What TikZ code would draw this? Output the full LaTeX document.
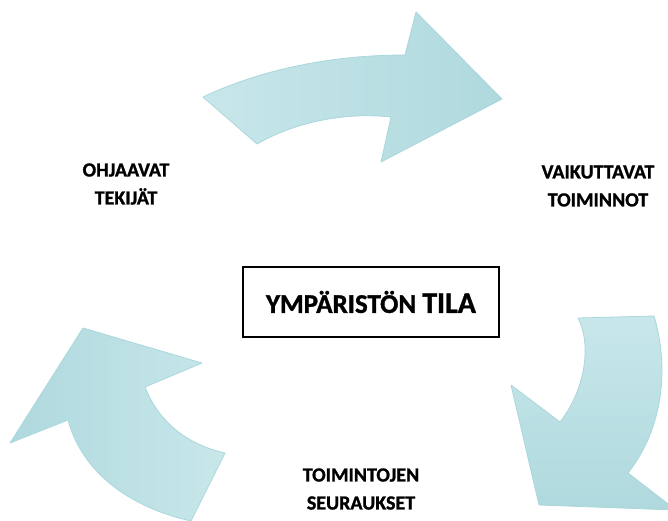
\documentclass[tikz,border=0pt]{standalone}
\usepackage{fontspec}
\setmainfont{Carlito}[BoldFont={Carlito Bold}, BoldFeatures={FakeBold=1.2}]
\definecolor{arrowlight}{RGB}{200,231,234}
\definecolor{arrowdark}{RGB}{175,217,222}
\definecolor{arrowedge}{RGB}{170,215,220}
\begin{document}
\begin{tikzpicture}[x=1pt,y=-1pt,
  flow/.style={draw=arrowedge, line width=0.8pt, line join=round},
  label/.style={font=\bfseries\fontsize{20}{28}\selectfont, align=center, text=black},
  statebox/.style={draw=black, line width=1.4pt, minimum width=256pt, minimum height=70pt, inner sep=0pt,
    font=\bfseries, text=black},
]
\useasboundingbox (0,0) rectangle (668,520);
\fill[white] (0,0) rectangle (668,520);

\begin{scope}
  \clip (0,0) rectangle (668,520);
  % curved arrow across the top, pointing right
  \shadedraw[flow, left color=arrowlight, right color=arrowdark]
    (203,97) .. controls (260,70) and (330,55) .. (405,55)
    -- (416,12) -- (502,99) -- (381,162) -- (391,117)
    .. controls (345,112) and (295,122) .. (257,144) -- cycle;
  % curved arrow on the right, pointing down and to the left
  \shadedraw[flow, top color=arrowlight, bottom color=arrowdark]
    (578,318) -- (654,316)
    .. controls (670,370) and (662,430) .. (628,473)
    -- (676,510) -- (539,505) -- (511,385) -- (560,422)
    .. controls (585,390) and (592,345) .. (578,318) -- cycle;
  % curved arrow on the lower left, pointing up
  \shadedraw[flow, left color=arrowdark, right color=arrowlight]
    (83,328) -- (202,363) -- (145,387)
    .. controls (160,425) and (190,445) .. (225,453)
    -- (191,521)
    .. controls (120,505) and (80,465) .. (68,420)
    -- (10,443) -- cycle;
\end{scope}

\node[statebox] (state) at (371,302)
  {\fontsize{27}{30}\selectfont YMPÄRISTÖN {\fontsize{30}{30}\selectfont TILA}};

\node[label] (drivers) at (126,184) {OHJAAVAT\\TEKIJÄT};
\node[label] (pressures) at (598,186) {VAIKUTTAVAT\\TOIMINNOT};
\node[label] (impacts) at (361,489) {TOIMINTOJEN\\SEURAUKSET};
\end{tikzpicture}
\end{document}
